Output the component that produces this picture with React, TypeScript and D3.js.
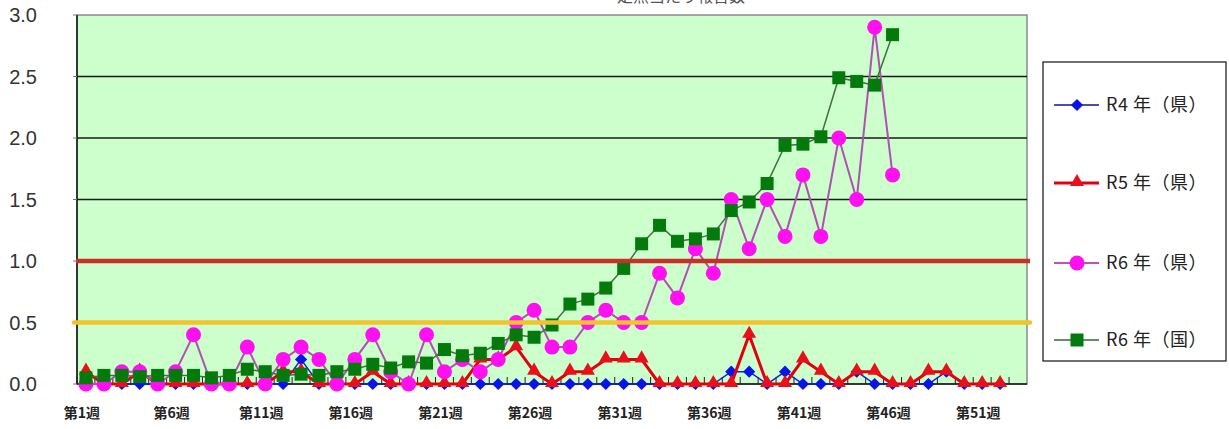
import React from "react";
import * as d3 from "d3";

// ---- data ----
const weekCount = 53;
const tickWeeks = [1, 6, 11, 16, 21, 26, 31, 36, 41, 46, 51];
const yTicks = [0, 0.5, 1.0, 1.5, 2.0, 2.5, 3.0];
const gridValues = [1.5, 2.0, 2.5];

const r4 = [
  0, 0, 0, 0, 0, 0, 0, 0, 0, 0,
  0, 0, 0.2, 0, 0, 0, 0, 0, 0, 0,
  0, 0, 0, 0, 0, 0, 0, 0, 0, 0,
  0, 0, 0, 0, 0, 0, 0.1, 0.1, 0, 0.1,
  0, 0, 0, 0.1, 0, 0, 0, 0, 0.1, 0,
  0, 0,
];
const r5 = [
  0.1, 0, 0, 0.1, 0, 0, 0, 0, 0, 0,
  0, 0.1, 0.1, 0, 0, 0, 0.1, 0, 0, 0,
  0, 0, 0.2, 0.2, 0.3, 0.1, 0, 0.1, 0.1, 0.2,
  0.2, 0.2, 0, 0, 0, 0, 0, 0.4, 0, 0,
  0.2, 0.1, 0, 0.1, 0.1, 0, 0, 0.1, 0.1, 0,
  0, 0,
];
const r6Pref = [
  0, 0, 0.1, 0.1, 0, 0.1, 0.4, 0, 0, 0.3,
  0, 0.2, 0.3, 0.2, 0, 0.2, 0.4, 0.1, 0, 0.4,
  0.1, 0.2, 0.1, 0.2, 0.5, 0.6, 0.3, 0.3, 0.5, 0.6,
  0.5, 0.5, 0.9, 0.7, 1.1, 0.9, 1.5, 1.1, 1.5, 1.2,
  1.7, 1.2, 2.0, 1.5, 2.9, 1.7,
];
const r6Nat = [
  0.05, 0.07, 0.07, 0.06, 0.07, 0.07, 0.07, 0.05, 0.07, 0.12,
  0.1, 0.07, 0.08, 0.07, 0.1, 0.12, 0.16, 0.13, 0.18, 0.17,
  0.28, 0.23, 0.25, 0.33, 0.4, 0.38, 0.48, 0.65, 0.69, 0.78,
  0.94, 1.14, 1.29, 1.16, 1.18, 1.22, 1.41, 1.48, 1.63, 1.94,
  1.95, 2.01, 2.49, 2.46, 2.43, 2.84,
];
const seriesNames = ["R4 年（県）", "R5 年（県）", "R6 年（県）", "R6 年（国）"];
const thresholdHigh = 1.0;
const thresholdLow = 0.5;
const titleText = "定点当たり報告数";

// ---- layout ----
const W = 1229, H = 429;
const L = 77, R = 1027, T = 15, B = 384;

const x = d3.scaleBand<number>().domain(d3.range(1, weekCount + 1)).range([L, R]).padding(0);
const y = d3.scaleLinear().domain([0, 3]).range([B, T]);
const cx = (w: number) => (x(w) as number) + x.bandwidth() / 2;

type Pt = { w: number; v: number };
const toPts = (arr: number[]): Pt[] => arr.map((v, i) => ({ w: i + 1, v }));
const line = d3.line<Pt>().x((d) => cx(d.w)).y((d) => y(d.v));

const diamond = d3.symbol().type(d3.symbolDiamond2).size(95)();
const triangle = d3.symbol().type(d3.symbolTriangle).size(85)();

const Diamond = ({ px, py }: { px: number; py: number }) => (
  <path d={diamond as string} transform={`translate(${px},${py})`} fill="#0a14e6" />
);
const Tri = ({ px, py }: { px: number; py: number }) => (
  <path d={triangle as string} transform={`translate(${px},${py - 1})`} fill="#e8101a" />
);
const Circ = ({ px, py }: { px: number; py: number }) => (
  <circle cx={px} cy={py} r={7.5} fill="#ff10f0" />
);
const Sq = ({ px, py }: { px: number; py: number }) => (
  <rect x={px - 6.5} y={py - 6.5} width={13} height={13} fill="#047a0c" />
);

export default function App() {
  const p4 = toPts(r4), p5 = toPts(r5), p6 = toPts(r6Pref), pn = toPts(r6Nat);
  const fmt = d3.format(".1f");
  const legendRows = [105, 183, 263, 340];
  const legendItems = [
    { stroke: "#10109a", sw: 1.5, M: Diamond },
    { stroke: "#e00010", sw: 3, M: Tri },
    { stroke: "#c050c0", sw: 2, M: Circ },
    { stroke: "#2e6a2e", sw: 1.5, M: Sq },
  ];
  return (
    <svg width={W} height={H} style={{ position: "absolute", left: 0, top: 0, background: "#ffffff" }}
      fontFamily="'Noto Sans CJK JP', 'Liberation Sans', sans-serif">
      {/* title (cut off at the top edge, as in the reference) */}
      <text x={681} y={2} textAnchor="middle" fontSize={16} fill="#555">{titleText}</text>

      {/* plot background */}
      <rect x={L} y={T} width={R - L} height={B - T} fill="#ccffcc" stroke="#8a8a8a" strokeWidth={1.5} />

      {/* grid lines */}
      {gridValues.map((v) => (
        <line key={v} x1={L} x2={R} y1={y(v)} y2={y(v)} stroke="#1a1a1a" strokeWidth={1.5} />
      ))}

      {/* axes */}
      <line x1={L} x2={L} y1={T} y2={B} stroke="#111" strokeWidth={1.5} />
      <line x1={L} x2={R} y1={B} y2={B} stroke="#111" strokeWidth={1.5} />
      {yTicks.map((v) => (
        <line key={v} x1={L - 4} x2={L} y1={y(v)} y2={y(v)} stroke="#777" strokeWidth={1} />
      ))}
      {d3.range(1, weekCount + 1).map((w) => (
        <line key={w} x1={x(w) as number} x2={x(w) as number} y1={B} y2={B - 7} stroke="#222" strokeWidth={1} />
      ))}

      {/* y labels */}
      {yTicks.map((v) => (
        <text key={v} x={37} y={y(v) + 7} textAnchor="end" fontSize={20}
          fontFamily="'Liberation Sans', Arial, sans-serif" fill="#333">{fmt(v)}</text>
      ))}

      {/* x labels */}
      {tickWeeks.map((w) => (
        <text key={w} x={cx(w) - 4} y={418} textAnchor="middle" fontSize={14} fontWeight={600} fill="#222">{`第${w}週`}</text>
      ))}

      {/* series lines + markers */}
      <path d={line(p4) as string} fill="none" stroke="#1020d0" strokeWidth={1.5} />
      {p4.map((d) => <Diamond key={d.w} px={cx(d.w)} py={y(d.v)} />)}

      <path d={line(p5) as string} fill="none" stroke="#e00010" strokeWidth={3} strokeLinejoin="round" />
      {p5.map((d) => <Tri key={d.w} px={cx(d.w)} py={y(d.v)} />)}

      <path d={line(p6) as string} fill="none" stroke="#b050b0" strokeWidth={2} />
      {p6.map((d) => <Circ key={d.w} px={cx(d.w)} py={y(d.v)} />)}

      <path d={line(pn) as string} fill="none" stroke="#3f703f" strokeWidth={1.5} />
      {pn.map((d) => <Sq key={d.w} px={cx(d.w)} py={y(d.v)} />)}

      {/* thresholds */}
      <line x1={76} x2={1030} y1={y(thresholdHigh)} y2={y(thresholdHigh)} stroke="#c8302a" strokeWidth={4.5} />
      <line x1={74} x2={1030} y1={y(thresholdLow)} y2={y(thresholdLow)} stroke="#f2c42a" strokeWidth={4.5} strokeLinecap="round" />

      {/* legend */}
      <rect x={1043} y={62} width={183} height={299} fill="#fff" stroke="#111" strokeWidth={1.2} />
      {legendItems.map((it, i) => {
        const ly = legendRows[i];
        const M = it.M;
        return (
          <g key={i}>
            <line x1={1054} x2={1099} y1={ly} y2={ly} stroke={it.stroke} strokeWidth={it.sw} />
            <M px={1077} py={ly} />
            <text x={1106} y={ly + 6} fontSize={18} letterSpacing={0.5} fill="#222">
              {seriesNames[i]}
            </text>
          </g>
        );
      })}
    </svg>
  );
}
